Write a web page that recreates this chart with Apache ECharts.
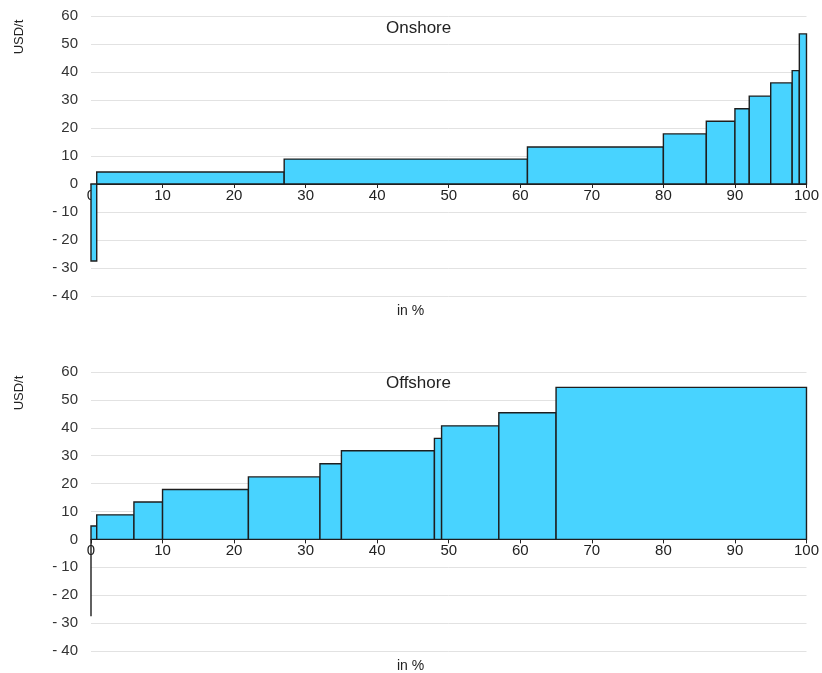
<!DOCTYPE html>
<html>
<head>
<meta charset="utf-8">
<script src="https://cdn.jsdelivr.net/npm/echarts@6/dist/echarts.min.js"></script>
<style>
  html, body { margin: 0; padding: 0; background: #fff; overflow: hidden; }
  #chart { width: 822px; height: 673px; }
</style>
</head>
<body>
<div id="chart"></div>
<script>
// Cumulative share boundaries (in %) and cost level (USD/t) of each step
const onshoreEdges  = [0, 0.8, 27, 61, 80, 86, 90, 92, 95, 98, 99, 100];
const onshoreValues = [-27.5, 4.3, 8.9, 13.2, 17.9, 22.4, 26.9, 31.4, 36.1, 40.5, 53.6];

const offshoreEdges  = [0, 0, 0.8, 6, 10, 22, 32, 35, 48, 49, 57, 65, 100];
const offshoreValues = [-27.5, 4.8, 8.8, 13.4, 17.9, 22.4, 27.1, 31.8, 36.2, 40.7, 45.4, 54.5];

const panelTitles = ['Onshore', 'Offshore'];
const xTitle = 'in %';
const yTitle = 'USD/t';

const Y_MIN = -40, Y_MAX = 60;

function steps(edges, values) {
  return values.map((v, i) => [edges[i], edges[i + 1], v]);
}

const FONT = '"Liberation Sans", Arial, sans-serif';
const grids = [
  { left: 91, width: 719, top: 16, height: 280 },
  { left: 91, width: 719, top: 372, height: 279 }
];

// x axis sits on the zero line: shift it up from the grid bottom
function xAxis(gi) {
  const h = grids[gi].height;
  return {
    type: 'value', gridIndex: gi, min: 0, max: 100, interval: 10,
    position: 'bottom',
    offset: -h * (0 - Y_MIN) / (Y_MAX - Y_MIN),
    axisLine: { onZero: false, lineStyle: { color: '#222', width: 1 } },
    axisTick: { show: true, length: 4, lineStyle: { color: '#222' } },
    axisLabel: { color: '#222', fontSize: 15, fontFamily: FONT, margin: 4 },
    splitLine: { show: false }
  };
}
function yAxis(gi) {
  return {
    type: 'value', gridIndex: gi, min: Y_MIN, max: Y_MAX, interval: 10,
    axisLine: { show: false }, axisTick: { show: false },
    axisLabel: {
      color: '#333', fontSize: 15, fontFamily: FONT, margin: 13,
      formatter: v => (v < 0 ? '- ' + Math.abs(v) : String(v))
    },
    splitLine: { lineStyle: { color: '#e2e2e2', width: 1 } }
  };
}

function renderStep(params, api) {
  const p0 = api.coord([api.value(0), 0]);
  const p1 = api.coord([api.value(1), api.value(2)]);
  return {
    type: 'rect',
    shape: {
      x: p0[0], y: Math.min(p0[1], p1[1]),
      width: p1[0] - p0[0], height: Math.abs(p1[1] - p0[1])
    },
    style: { fill: '#48d3ff', stroke: '#1e1e1e', lineWidth: 1.4 }
  };
}

function stepSeries(gi, data) {
  return {
    type: 'custom', xAxisIndex: gi, yAxisIndex: gi,
    renderItem: renderStep,
    encode: { x: [0, 1], y: 2 },
    data: data, z: 3
  };
}

const titleStyle = { color: '#222', fontSize: 17, fontFamily: FONT, fontWeight: 'normal' };
const subStyle = { color: '#222', fontSize: 14, fontFamily: FONT, fontWeight: 'normal' };

const chart = echarts.init(document.getElementById('chart'), null, { renderer: 'canvas', width: 822, height: 673 });
chart.setOption({
  animation: false,
  grid: grids,
  xAxis: [xAxis(0), xAxis(1)],
  yAxis: [yAxis(0), yAxis(1)],
  title: [
    { text: panelTitles[0], left: 386, top: 20, padding: 0, textStyle: titleStyle },
    { text: panelTitles[1], left: 386, top: 375, padding: 0, textStyle: titleStyle },
    { text: xTitle, left: 397, top: 304, padding: 0, textStyle: subStyle },
    { text: xTitle, left: 397, top: 659, padding: 0, textStyle: subStyle }
  ],
  graphic: [
    { type: 'text', x: 19, y: 37, rotation: Math.PI / 2,
      style: { text: yTitle, fill: '#222', font: '13px ' + FONT, textAlign: 'center', textVerticalAlign: 'middle' } },
    { type: 'text', x: 19, y: 393, rotation: Math.PI / 2,
      style: { text: yTitle, fill: '#222', font: '13px ' + FONT, textAlign: 'center', textVerticalAlign: 'middle' } }
  ],
  series: [
    stepSeries(0, steps(onshoreEdges, onshoreValues)),
    stepSeries(1, steps(offshoreEdges, offshoreValues))
  ]
});
</script>
</body>
</html>
